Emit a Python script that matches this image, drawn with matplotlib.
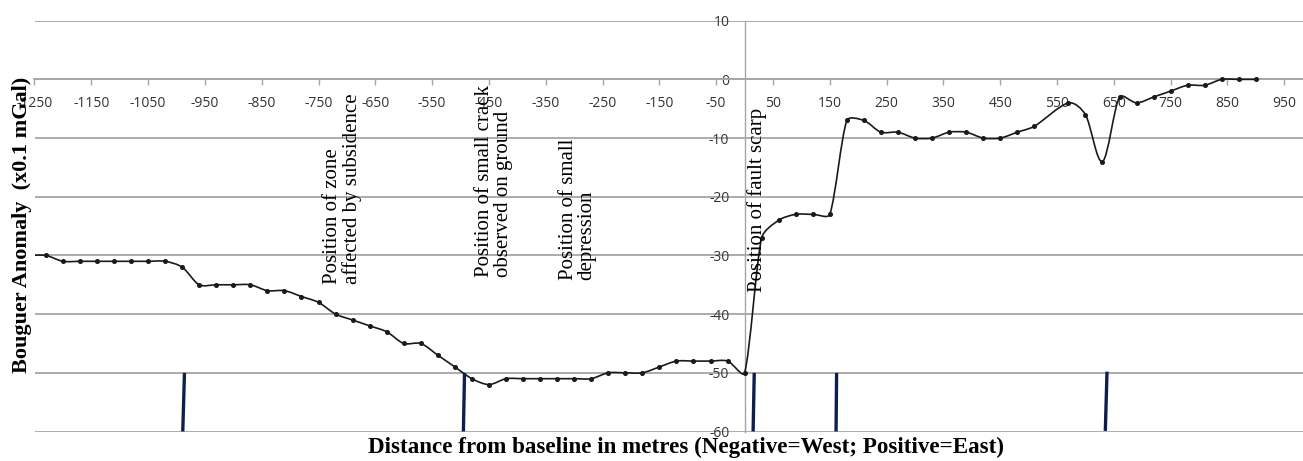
import matplotlib
matplotlib.use("Agg")
import numpy as np
import matplotlib.pyplot as plt
from matplotlib.path import Path
from matplotlib.patches import PathPatch

# survey stations (m) and Bouguer anomaly (x0.1 mGal)
distance = [-1260, -1230, -1200, -1170, -1140, -1110, -1080, -1050, -1020, -990,
            -960, -930, -900, -870, -840, -810, -780, -750, -720, -690,
            -660, -630, -600, -570, -540, -510, -480, -450, -420, -390,
            -360, -330, -300, -270, -240, -210, -180, -150, -120, -90,
            -60, -30, 0, 30, 60, 90, 120, 150, 180, 210,
            240, 270, 300, 330, 360, 390, 420, 450, 480, 510,
            570, 600, 630, 660, 690, 720, 750, 780, 810, 840,
            870, 900]
anomaly = [-30, -30, -31, -31, -31, -31, -31, -31, -31, -32,
           -35, -35, -35, -35, -36, -36, -37, -38, -40, -41,
           -42, -43, -45, -45, -47, -49, -51, -52, -51, -51,
           -51, -51, -51, -51, -50, -50, -50, -49, -48, -48,
           -48, -48, -50, -27, -24, -23, -23, -23, -7, -7,
           -9, -9, -10, -10, -9, -9, -10, -10, -9, -8,
           -4, -6, -14, -3, -4, -3, -2, -1, -1, 0,
           0, 0]

# marked ground features (bars drawn between -50 and -60)
feature_x_top = [-986, -493, 17, 162, 638]
feature_x_bottom = [-989, -495, 15, 161, 635]
feature_y_top = [-50, -50, -50, -50, -49.8]
feature_y_bottom = [-60, -60, -60, -60, -59.9]

notes = ["Position of zone\naffected by subsidence",
         "Position of small crack\nobserved on ground",
         "Position of small\ndepression",
         "Position of fault scarp"]
note_x = [-708, -441, -294, 22]
note_y = [-34.8, -33.7, -34.1, -36.3]

x_ticks = list(range(-1250, 951, 100))
y_ticks = list(range(-60, 11, 10))


def smooth_path(ax, xs, ys, clamp=0.3):
    # excel-like smoothed line: catmull-rom arms in screen space,
    # arms limited to a share of the segment they belong to
    pts = ax.transData.transform(np.column_stack([xs, ys]))
    n = len(pts)
    verts = [pts[0]]
    codes = [Path.MOVETO]
    tang = [(pts[min(i + 1, n - 1)] - pts[max(i - 1, 0)]) / 6 for i in range(n)]

    def arm(t, seg):
        size = np.hypot(*t)
        lim = clamp * seg
        return t * (lim / size) if size > lim else t

    for i in range(n - 1):
        seg = np.hypot(*(pts[i + 1] - pts[i]))
        c1 = pts[i] + arm(tang[i], seg)
        c2 = pts[i + 1] - arm(tang[i + 1], seg)
        verts += [c1, c2, pts[i + 1]]
        codes += [Path.CURVE4] * 3
    verts = ax.transData.inverted().transform(np.array(verts))
    return Path(verts, codes)


plt.rcParams['axes.unicode_minus'] = False
serif = ['Liberation Serif', 'DejaVu Serif']
sans = ['Open Sans', 'DejaVu Sans']

fig = plt.figure(figsize=(13.03, 4.61), dpi=100)
ax = fig.add_axes([34.5 / 1303, 29.5 / 461, (1303 - 34.5) / 1303, 410.8 / 461])

ax.set_xlim(-1250, 983)
ax.set_ylim(-60, 10)

grid_col = '#a6a6a6'
ax.set_yticks(y_ticks)
ax.yaxis.grid(True, color=grid_col, lw=1.3)
ax.set_axisbelow(True)

for s in ['top', 'right']:
    ax.spines[s].set_visible(False)
ax.spines['left'].set_position(('data', 0))
ax.spines['bottom'].set_position(('data', 0))
ax.spines['left'].set_color(grid_col)
ax.spines['bottom'].set_color(grid_col)
ax.spines['left'].set_linewidth(1.0)
ax.spines['bottom'].set_linewidth(1.3)

ax.set_xticks(x_ticks)
ax.set_xticklabels([str(v) for v in x_ticks], fontfamily=sans, fontsize=10, color='#333333')
ax.set_yticklabels([str(v) for v in y_ticks], fontfamily=sans, fontsize=10, color='#333333')
ax.tick_params(axis='x', direction='out', length=4, width=1.0, color=grid_col, pad=8)
ax.tick_params(axis='y', length=0, pad=11)

ax.add_patch(PathPatch(smooth_path(ax, distance, anomaly), fill=False,
                       ec='#1a1a1a', lw=1.2, zorder=3))
ax.plot(distance, anomaly, 'o', ms=2.6, color='#1a1a1a', zorder=4)

for xt, xb, yt, yb in zip(feature_x_top, feature_x_bottom, feature_y_top, feature_y_bottom):
    ax.plot([xt, xb], [yt, yb], color='#0c1f4f', lw=2.4, solid_capstyle='butt', zorder=3)

for txt, tx, ty in zip(notes, note_x, note_y):
    ax.text(tx, ty, txt, rotation=90, ha='center', va='bottom', multialignment='left',
            fontfamily=serif, fontsize=15, linespacing=1.0, zorder=5)

fig.text(22 / 1303, 1 - 225 / 461, "Bouguer Anomaly  (x0.1 mGal)", rotation=90,
         ha='center', va='center', fontfamily=serif, fontsize=16, fontweight='bold')
fig.text(686 / 1303, 14 / 461,
         "Distance from baseline in metres (Negative=West; Positive=East)",
         ha='center', va='center', fontfamily=serif, fontsize=16.6, fontweight='bold')

fig.savefig('out.png', dpi=100)
